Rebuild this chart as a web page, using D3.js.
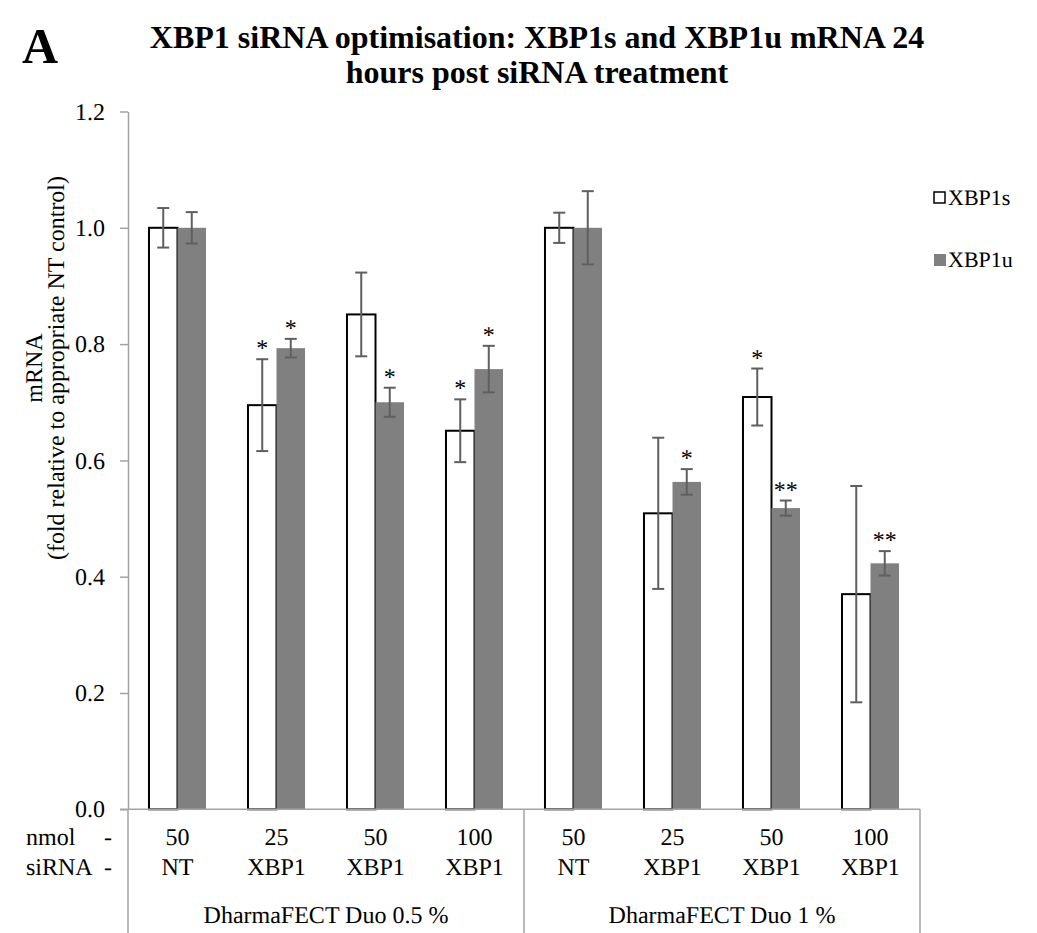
<!DOCTYPE html>
<html>
<head>
<meta charset="utf-8">
<script src="https://cdn.jsdelivr.net/npm/d3@7"></script>
<style>
  html, body { margin: 0; padding: 0; background: #fff; }
  svg text.reg { font-weight: 300; text-rendering: geometricPrecision; }
</style>
</head>
<body>
<svg id="chart" width="1037" height="933"></svg>
<script>
// Category labels (two rows) and the transfection reagent groups
const nmol = ["50", "25", "50", "100", "50", "25", "50", "100"];
const sirna = ["NT", "XBP1", "XBP1", "XBP1", "NT", "XBP1", "XBP1", "XBP1"];
const reagents = ["DharmaFECT Duo 0.5 %", "DharmaFECT Duo 1 %"];

// Fold change relative to NT control, with error values
const xbp1s = [1.000, 0.695, 0.851, 0.651, 1.000, 0.509, 0.709, 0.370];
const xbp1sErr = [0.034, 0.079, 0.072, 0.054, 0.026, 0.130, 0.049, 0.186];
const xbp1u = [1.000, 0.793, 0.700, 0.757, 1.000, 0.563, 0.518, 0.423];
const xbp1uErr = [0.027, 0.016, 0.025, 0.040, 0.063, 0.022, 0.013, 0.021];

// Significance markers
const xbp1sSig = ["", "*", "", "*", "", "", "*", ""];
const xbp1uSig = ["", "*", "*", "*", "", "*", "**", "**"];

const yTicks = [0, 0.2, 0.4, 0.6, 0.8, 1.0, 1.2];

const serif = "Liberation Serif, Times New Roman, serif";
const svg = d3.select("#chart").attr("font-family", serif);
const axisColor = "#a3a3a3";
const errColor = "#5f5f5f";
const greyFill = "#808080";
const labelSize = 24;

const plot = { left: 128, right: 920, top: 111.5, bottom: 809.3 };

const x = d3.scaleBand()
  .domain(d3.range(nmol.length))
  .range([plot.left, plot.right])
  .padding(0);
const barW = x.step() * 0.288;
const cx = i => x(i) + x.bandwidth() / 2;

const y = d3.scaleLinear().domain([0, 1.2]).range([plot.bottom, plot.top]);

// Title and panel letter
svg.append("text")
  .attr("x", 22).attr("y", 63)
  .attr("font-size", 50).attr("font-weight", "bold")
  .text("A");

const title = svg.append("text")
  .attr("text-anchor", "middle")
  .attr("font-size", 32).attr("font-weight", "bold");
title.append("tspan").attr("x", 537).attr("y", 48)
  .text("XBP1 siRNA optimisation: XBP1s and XBP1u mRNA 24");
title.append("tspan").attr("x", 537).attr("y", 83)
  .text("hours post siRNA treatment");

// Y axis
const yAxis = svg.append("g")
  .attr("transform", `translate(${plot.left},0)`)
  .call(d3.axisLeft(y).tickValues(yTicks).tickFormat(d3.format(".1f"))
    .tickSize(8).tickSizeOuter(0).tickPadding(15))
  .attr("font-family", serif);
yAxis.select(".domain").attr("stroke", axisColor).attr("stroke-width", 1.5);
yAxis.selectAll(".tick line").attr("stroke", axisColor).attr("stroke-width", 1.5);
yAxis.selectAll(".tick text")
  .attr("class", "reg")
  .attr("font-size", labelSize).attr("fill", "#000");

// Y axis title
svg.append("text").attr("class", "reg")
  .attr("transform", "translate(42,368) rotate(-90)")
  .attr("text-anchor", "middle").attr("font-size", labelSize)
  .text("mRNA");
svg.append("text").attr("class", "reg")
  .attr("transform", "translate(64,368) rotate(-90)")
  .attr("text-anchor", "middle").attr("font-size", labelSize)
  .text("(fold relative to appropriate NT control)");

// Bars
const idx = d3.range(nmol.length);
svg.append("g").selectAll("rect")
  .data(idx).join("rect")
  .attr("x", i => cx(i) - barW)
  .attr("y", i => y(xbp1s[i]))
  .attr("width", barW)
  .attr("height", i => y(0) - y(xbp1s[i]))
  .attr("fill", "#fff").attr("stroke", "#000").attr("stroke-width", 2);

svg.append("g").selectAll("rect")
  .data(idx).join("rect")
  .attr("x", i => cx(i))
  .attr("y", i => y(xbp1u[i]))
  .attr("width", barW)
  .attr("height", i => y(0) - y(xbp1u[i]))
  .attr("fill", greyFill);

// Error bars
function errorBars(vals, errs, offset) {
  const g = svg.append("g").attr("stroke", errColor).attr("stroke-width", 2).attr("fill", "none");
  const ex = i => cx(i) + offset;
  const cap = 6;
  g.selectAll(".stem").data(idx).join("line")
    .attr("x1", ex).attr("x2", ex)
    .attr("y1", i => y(vals[i] + errs[i])).attr("y2", i => y(vals[i] - errs[i]));
  g.selectAll(".top").data(idx).join("line")
    .attr("x1", i => ex(i) - cap).attr("x2", i => ex(i) + cap)
    .attr("y1", i => y(vals[i] + errs[i])).attr("y2", i => y(vals[i] + errs[i]));
  g.selectAll(".bot").data(idx).join("line")
    .attr("x1", i => ex(i) - cap).attr("x2", i => ex(i) + cap)
    .attr("y1", i => y(vals[i] - errs[i])).attr("y2", i => y(vals[i] - errs[i]));
}
errorBars(xbp1s, xbp1sErr, -barW / 2);
errorBars(xbp1u, xbp1uErr, barW / 2);

// Significance asterisks
function stars(vals, errs, sig, offset) {
  svg.append("g").selectAll("text")
    .data(idx.filter(i => sig[i])).join("text")
    .attr("class", "reg")
    .attr("x", i => cx(i) + offset)
    .attr("y", i => y(vals[i] + errs[i]) - 3)
    .attr("text-anchor", "middle")
    .attr("font-size", labelSize)
    .text(i => sig[i]);
}
stars(xbp1s, xbp1sErr, xbp1sSig, -barW / 2);
stars(xbp1u, xbp1uErr, xbp1uSig, barW / 2);

// Category axis: baseline and group dividers
const cat = svg.append("g").attr("stroke", axisColor).attr("stroke-width", 1.5);
cat.append("line")
  .attr("x1", plot.left - 8).attr("x2", plot.right)
  .attr("y1", y(0)).attr("y2", y(0));
[0, 4, 8].forEach(k => {
  const xx = plot.left + k * x.step();
  cat.append("line")
    .attr("x1", xx).attr("x2", xx)
    .attr("y1", y(0)).attr("y2", 933);
});

// Category labels
const labels = svg.append("g").attr("font-size", labelSize).attr("text-anchor", "middle");
labels.selectAll(".n").data(idx).join("text").attr("class", "reg")
  .attr("x", cx).attr("y", 845)
  .text(i => nmol[i]);
labels.selectAll(".s").data(idx).join("text").attr("class", "reg")
  .attr("x", cx).attr("y", 875)
  .text(i => sirna[i]);
labels.selectAll(".r").data(reagents).join("text").attr("class", "reg")
  .attr("x", (d, k) => plot.left + (k * 4 + 2) * x.step()).attr("y", 923)
  .text(d => d);

// Row captions
const rows = svg.append("g").attr("font-size", labelSize);
rows.append("text").attr("class", "reg").attr("x", 26).attr("y", 845).text("nmol");
rows.append("text").attr("class", "reg").attr("x", 26).attr("y", 875).text("siRNA");
rows.append("text").attr("class", "reg").attr("x", 112).attr("y", 845).attr("text-anchor", "end").text("-");
rows.append("text").attr("class", "reg").attr("x", 112).attr("y", 875).attr("text-anchor", "end").text("-");

// Legend
const legend = svg.append("g").attr("font-size", 22);
legend.append("rect").attr("x", 934).attr("y", 192).attr("width", 11).attr("height", 11)
  .attr("fill", "#fff").attr("stroke", "#000").attr("stroke-width", 1.5);
legend.append("text").attr("class", "reg").attr("x", 948).attr("y", 205).text("XBP1s");
legend.append("rect").attr("x", 934).attr("y", 254).attr("width", 12).attr("height", 12)
  .attr("fill", greyFill);
legend.append("text").attr("class", "reg").attr("x", 948).attr("y", 267).text("XBP1u");
</script>
</body>
</html>
